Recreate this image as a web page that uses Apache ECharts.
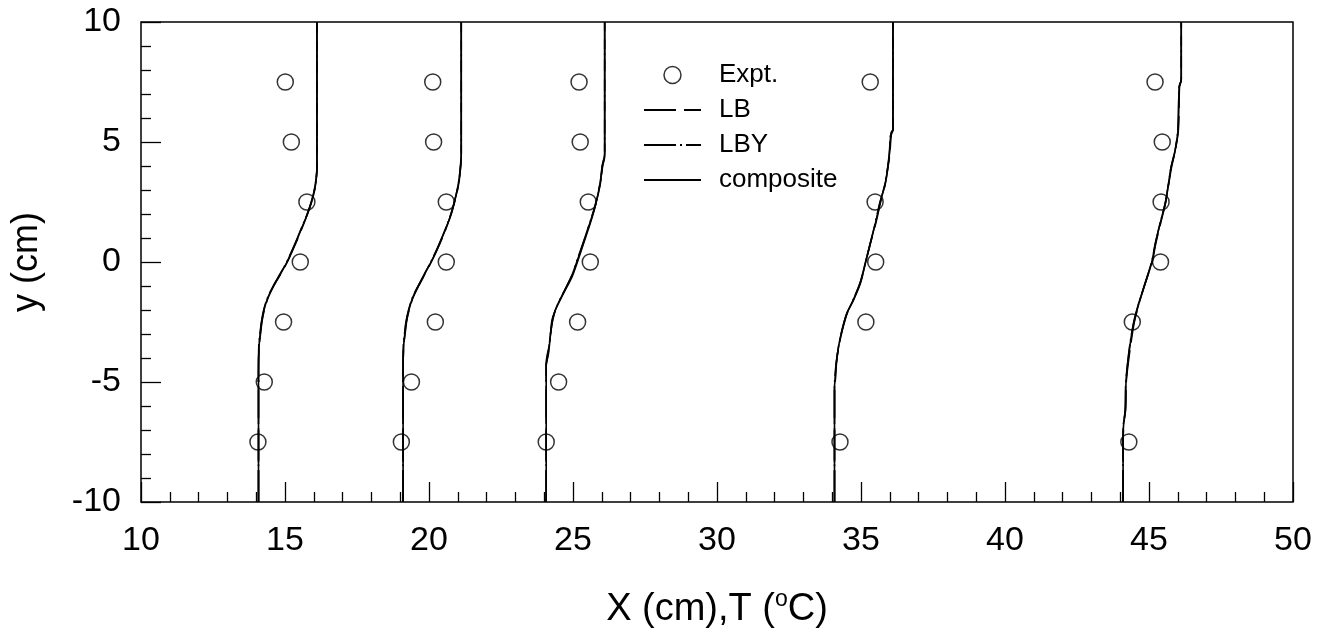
<!DOCTYPE html>
<html>
<head>
<meta charset="utf-8">
<script src="https://cdn.jsdelivr.net/npm/echarts@6/dist/echarts.min.js"></script>
<style>
  html, body { margin: 0; padding: 0; background: #fff; }
  #chart { width: 1326px; height: 634px; }
</style>
</head>
<body>
<div id="chart"></div>
<script>
// experimental points [T, y] for the five stations
const expt1 = [[15.01, 7.5], [15.22, 5], [15.76, 2.5], [15.53, 0], [14.95, -2.5], [14.28, -5], [14.06, -7.5]];
const expt2 = [[20.13, 7.5], [20.16, 5], [20.60, 2.5], [20.60, 0], [20.22, -2.5], [19.39, -5], [19.04, -7.5]];
const expt3 = [[25.21, 7.5], [25.25, 5], [25.53, 2.5], [25.60, 0], [25.16, -2.5], [24.50, -5], [24.07, -7.5]];
const expt4 = [[35.32, 7.5], [35.49, 2.5], [35.51, 0], [35.17, -2.5], [34.27, -7.5]];
const expt5 = [[45.21, 7.5], [45.46, 5], [45.42, 2.5], [45.40, 0], [44.42, -2.5], [44.30, -7.5]];

// composite model profiles
const comp1 = [[14.08, -10], [14.08, -4.5], [14.10, -3.5], [14.14, -3], [14.19, -2.5], [14.27, -2], [14.40, -1.5], [14.60, -1], [14.84, -0.5], [15.07, 0], [15.26, 0.5], [15.44, 1], [15.61, 1.5], [15.78, 2], [15.92, 2.5], [16.03, 3], [16.09, 3.5], [16.11, 4], [16.11, 10]];
const comp2 = [[19.10, -10], [19.10, -4.5], [19.12, -3.5], [19.16, -3], [19.21, -2.5], [19.30, -2], [19.43, -1.5], [19.63, -1], [19.85, -0.5], [20.07, 0], [20.27, 0.5], [20.45, 1], [20.62, 1.5], [20.77, 2], [20.88, 2.5], [20.98, 3], [21.05, 3.5], [21.10, 4], [21.12, 4.5], [21.12, 10]];
const comp3 = [[24.07, -10], [24.07, -4.3], [24.10, -4.09], [24.15, -3.81], [24.21, -3.12], [24.27, -2.42], [24.39, -2.0], [24.67, -1.31], [24.97, -0.61], [25.14, -0.05], [25.37, 0.78], [25.60, 1.61], [25.77, 2.31], [25.95, 3.28], [26.01, 3.98], [26.10, 4.53], [26.10, 10]];
const comp4 = [[34.08, -10], [34.08, -5.2], [34.10, -4.92], [34.14, -4.23], [34.22, -3.53], [34.34, -2.84], [34.51, -2.14], [34.74, -1.59], [34.98, -0.89], [35.15, -0.05], [35.32, 0.78], [35.50, 1.61], [35.67, 2.5], [35.84, 3.28], [35.92, 3.84], [35.99, 4.53], [36.04, 5.37], [36.11, 5.51], [36.11, 10]];
const comp5 = [[44.10, -10], [44.10, -7.42], [44.12, -6.73], [44.18, -6.17], [44.20, -5.06], [44.26, -4.23], [44.35, -3.39], [44.47, -2.5], [44.64, -1.73], [44.87, -0.89], [45.10, 0], [45.22, 0.78], [45.39, 1.61], [45.57, 2.5], [45.68, 3.28], [45.77, 3.98], [45.91, 4.67], [46.01, 5.51], [46.05, 7.31], [46.12, 7.59], [46.12, 10]];

// LB model profiles
const lb1 = [[14.08, -10], [14.08, -4.5], [14.10, -3.5], [14.15, -3], [14.20, -2.5], [14.28, -2], [14.41, -1.5], [14.61, -1], [14.85, -0.5], [15.08, 0], [15.27, 0.5], [15.45, 1], [15.62, 1.5], [15.78, 2], [15.92, 2.5], [16.02, 3], [16.08, 3.5], [16.11, 4], [16.11, 10]];
const lb2 = [[19.10, -10], [19.10, -4.5], [19.12, -3.5], [19.17, -3], [19.22, -2.5], [19.31, -2], [19.44, -1.5], [19.64, -1], [19.86, -0.5], [20.08, 0], [20.28, 0.5], [20.46, 1], [20.62, 1.5], [20.77, 2], [20.89, 2.5], [20.99, 3], [21.06, 3.5], [21.10, 4], [21.12, 4.5], [21.12, 10]];
const lb3 = [[24.07, -10], [24.07, -4.3], [24.11, -4.0], [24.16, -3.6], [24.22, -3.0], [24.30, -2.4], [24.42, -1.9], [24.66, -1.3], [24.95, -0.6], [25.13, 0], [25.36, 0.8], [25.58, 1.6], [25.76, 2.3], [25.94, 3.3], [26.02, 4.0], [26.10, 4.5], [26.10, 10]];
const lb4 = [[34.08, -10], [34.08, -5.3], [34.11, -4.9], [34.15, -4.2], [34.23, -3.5], [34.36, -2.8], [34.53, -2.1], [34.76, -1.5], [34.99, -0.8], [35.16, 0], [35.33, 0.8], [35.51, 1.6], [35.68, 2.5], [35.85, 3.3], [35.93, 3.9], [36.00, 4.5], [36.05, 5.3], [36.11, 5.5], [36.11, 10]];
const lb5 = [[44.10, -10], [44.10, -7.5], [44.13, -6.7], [44.19, -6.1], [44.21, -5.0], [44.28, -4.2], [44.37, -3.4], [44.49, -2.5], [44.66, -1.7], [44.89, -0.8], [45.11, 0], [45.24, 0.8], [45.40, 1.6], [45.58, 2.5], [45.69, 3.3], [45.79, 4.0], [45.92, 4.7], [46.02, 5.5], [46.06, 7.3], [46.12, 7.6], [46.12, 10]];

// LBY model profiles
const lby1 = [[14.08, -10], [14.08, -4.5], [14.09, -3.5], [14.13, -3], [14.18, -2.5], [14.26, -2], [14.39, -1.5], [14.59, -1], [14.83, -0.5], [15.06, 0], [15.25, 0.5], [15.43, 1], [15.60, 1.5], [15.77, 2], [15.91, 2.5], [16.02, 3], [16.09, 3.5], [16.11, 4], [16.11, 10]];
const lby2 = [[19.10, -10], [19.10, -4.5], [19.11, -3.5], [19.15, -3], [19.20, -2.5], [19.29, -2], [19.42, -1.5], [19.62, -1], [19.84, -0.5], [20.06, 0], [20.26, 0.5], [20.44, 1], [20.61, 1.5], [20.76, 2], [20.88, 2.5], [20.98, 3], [21.05, 3.5], [21.09, 4], [21.12, 4.5], [21.12, 10]];
const lby3 = [[24.07, -10], [24.07, -4.2], [24.10, -3.9], [24.17, -3.5], [24.23, -2.9], [24.31, -2.3], [24.45, -1.8], [24.70, -1.2], [24.98, -0.5], [25.15, 0.1], [25.38, 0.9], [25.60, 1.7], [25.78, 2.4], [25.95, 3.3], [26.03, 4.0], [26.10, 4.4], [26.10, 10]];
const lby4 = [[34.08, -10], [34.08, -5.1], [34.09, -4.9], [34.13, -4.3], [34.21, -3.6], [34.33, -2.9], [34.49, -2.2], [34.72, -1.6], [34.96, -0.9], [35.14, -0.1], [35.31, 0.7], [35.49, 1.6], [35.66, 2.5], [35.83, 3.2], [35.91, 3.8], [35.98, 4.5], [36.04, 5.4], [36.11, 5.5], [36.11, 10]];
const lby5 = [[44.10, -10], [44.10, -7.3], [44.11, -6.8], [44.17, -6.2], [44.19, -5.1], [44.25, -4.3], [44.34, -3.4], [44.46, -2.6], [44.63, -1.8], [44.86, -0.9], [45.09, 0], [45.21, 0.7], [45.38, 1.6], [45.56, 2.4], [45.67, 3.2], [45.76, 3.9], [45.90, 4.6], [46.00, 5.5], [46.05, 7.3], [46.12, 7.6], [46.12, 10]];

const legendNames = ['Expt.', 'LB', 'LBY', 'composite'];

const chart = echarts.init(document.getElementById('chart'), null, { renderer: 'canvas' });
const font = 'Liberation Sans, Arial, sans-serif';

function lineSeries(name, data, type) {
    return {
        name: name,
        type: 'line',
        data: data,
        symbol: 'none',
        smooth: 0.3,
        lineStyle: { color: '#000', width: 1.6, type: type },
        itemStyle: { color: '#000' },
        z: 3
    };
}

const series = [];
[lb1, lb2, lb3, lb4, lb5].forEach(d => series.push(lineSeries('LB', d, [32, 8])));
[lby1, lby2, lby3, lby4, lby5].forEach(d => series.push(lineSeries('LBY', d, [32, 4, 2, 4])));
[comp1, comp2, comp3, comp4, comp5].forEach(d => series.push(lineSeries('composite', d, 'solid')));
series.push({
    name: 'Expt.',
    type: 'scatter',
    data: [].concat(expt1, expt2, expt3, expt4, expt5),
    symbol: 'circle',
    symbolSize: 16,
    itemStyle: { color: 'transparent', borderColor: '#000', borderWidth: 1.5 },
    z: 4
});

// hide the marker the line legend icons would otherwise get
const hiddenMark = { color: 'transparent', borderColor: 'transparent', borderWidth: 0 };

const option = {
    animation: false,
    backgroundColor: '#fff',
    grid: {
        left: 141, right: 33, top: 22, bottom: 132,
        show: true, borderColor: '#000', borderWidth: 1.5, backgroundColor: 'transparent'
    },
    legend: {
        orient: 'vertical',
        left: 643, top: 62,
        padding: 0,
        itemWidth: 57, itemHeight: 17, itemGap: 9,
        selectedMode: false,
        textStyle: { fontFamily: font, fontSize: 26, color: '#000', padding: [0, 0, 0, 13] },
        data: [
            { name: legendNames[0], icon: 'circle', itemStyle: { color: 'transparent', borderColor: '#000', borderWidth: 1.5 } },
            { name: legendNames[1], itemStyle: hiddenMark },
            { name: legendNames[2], itemStyle: hiddenMark },
            { name: legendNames[3], itemStyle: hiddenMark }
        ]
    },
    xAxis: {
        type: 'value',
        min: 10, max: 50, interval: 5,
        name: 'X (cm),T ({sup|o}C)',
        nameLocation: 'middle',
        nameGap: 86,
        nameTextStyle: {
            fontFamily: font, fontSize: 38, color: '#000',
            rich: { sup: { fontFamily: font, fontSize: 23, color: '#000', padding: [0, 0, 20, 0] } }
        },
        axisLine: { show: false, onZero: false },
        axisTick: { inside: true, length: 20, lineStyle: { color: '#000', width: 1.3 } },
        minorTick: { show: true, splitNumber: 5, length: 10, lineStyle: { color: '#000', width: 1.3 } },
        axisLabel: { fontFamily: font, fontSize: 34, color: '#000', margin: 22 },
        splitLine: { show: false }
    },
    yAxis: {
        type: 'value',
        min: -10, max: 10, interval: 5,
        name: 'y (cm)',
        nameLocation: 'middle',
        nameGap: 96,
        nameTextStyle: { fontFamily: font, fontSize: 36, color: '#000' },
        axisLine: { show: false, onZero: false },
        axisTick: { inside: true, length: 20, lineStyle: { color: '#000', width: 1.3 } },
        minorTick: { show: true, splitNumber: 5, length: 10, lineStyle: { color: '#000', width: 1.3 } },
        axisLabel: { fontFamily: font, fontSize: 34, color: '#000', margin: 20 },
        splitLine: { show: false }
    },
    series: series
};

chart.setOption(option);
window.addEventListener('resize', function () {
    chart.resize();
});
</script>
</body>
</html>
